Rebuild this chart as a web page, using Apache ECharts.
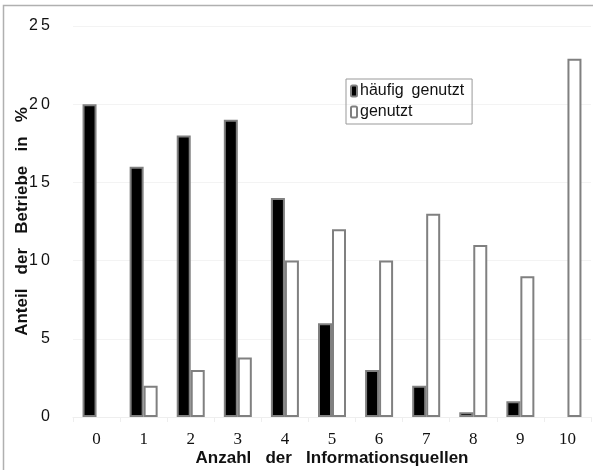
<!DOCTYPE html>
<html><head><meta charset="utf-8">
<script src="https://cdn.jsdelivr.net/npm/echarts@6/dist/echarts.min.js"></script>
<style>html,body{margin:0;padding:0;background:#fff}#c{width:593px;height:470px}</style>
</head><body><div id="c"></div>
<script>
const categories = ['0','1','2','3','4','5','6','7','8','9','10'];
const haeufig = [20, 16, 18, 19, 14, 6, 3, 2, 0.3, 1, 0];
const genutzt = [0, 2, 3, 3.8, 10, 12, 10, 13, 11, 9, 22.9];
const yTicks = [0, 5, 10, 15, 20, 25];

const hide0 = v => v === 0 ? '-' : v;
const chart = echarts.init(document.getElementById('c'), null, {renderer:'canvas'});
chart.setOption({
  animation:false,
  backgroundColor:'#fff',
  graphic:[{type:'rect', shape:{x:3.5,y:5.5,width:640,height:520}, style:{fill:'none', stroke:'#b0b0b0', lineWidth:1.5}, silent:true, z:-10}],
  grid:{left:73, right:2, top:26, bottom:53, containLabel:false, outerBoundsMode:'none'},
  legend:{
    orient:'vertical', left:346, top:79, width:128,
    padding:[4,8,4,4], itemGap:5,
    itemWidth:6, itemHeight:11,
    borderColor:'#999', borderWidth:1,
    textStyle:{fontFamily:'Liberation Sans, Arial', fontSize:16, color:'#111', padding:[0,0,0,-2]},
    data:['häufig genutzt','genutzt'],
    formatter: n => n === 'häufig genutzt' ? 'häufig\u2002genutzt' : n
  },
  xAxis:{
    type:'category', data:categories,
    name:'Anzahl   der   Informationsquellen', nameLocation:'middle', nameGap:33, nameMoveOverlap:false,
    nameTextStyle:{fontFamily:'Liberation Sans, Arial', fontWeight:'bold', fontSize:17, color:'#111'},
    axisLine:{lineStyle:{color:'#eeeeee'}},
    axisTick:{show:true, lineStyle:{color:'#eeeeee'}},
    axisLabel:{fontFamily:'Liberation Serif, Times New Roman, serif', fontSize:17, color:'#111', margin:14}
  },
  yAxis:{
    type:'value', min:0, max:25, interval:5,
    name:'Anteil   der   Betriebe   in   %', nameLocation:'middle', nameGap:42, nameMoveOverlap:false,
    nameTextStyle:{fontFamily:'Liberation Sans, Arial', fontWeight:'bold', fontSize:17, color:'#111'},
    axisLine:{show:false}, axisTick:{show:false},
    splitLine:{lineStyle:{color:'#f3f3f3'}},
    axisLabel:{fontFamily:'Liberation Sans, Arial', fontSize:16, color:'#111', margin:23,
      formatter:v=> yTicks.includes(v) ? String(v).split('').join('\u2009') : ''}
  },
  series:[
    {name:'häufig genutzt', type:'bar', data:haeufig.map(hide0), barWidth:14, barGap:'0%',
     itemStyle:{color:'#000', borderColor:'#808080', borderWidth:2}},
    {name:'genutzt', type:'bar', data:genutzt.map(hide0), barWidth:14, barGap:'0%',
     itemStyle:{color:'#fff', borderColor:'#808080', borderWidth:2}}
  ]
});
</script></body></html>
